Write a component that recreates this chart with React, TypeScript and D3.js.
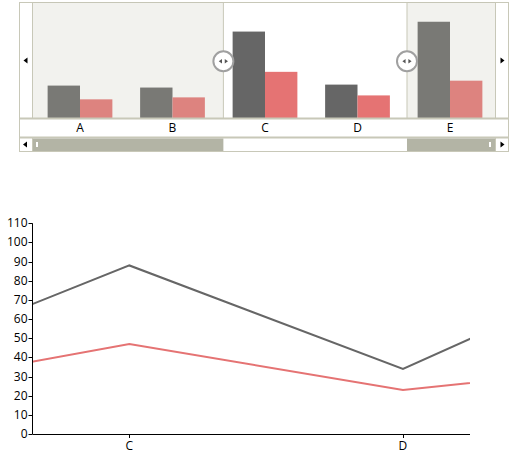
import * as d3 from 'd3';

// data
const categories = ['A', 'B', 'C', 'D', 'E'];
const seriesGray = [33, 31, 88, 34, 98];
const seriesPink = [19, 21, 47, 23, 38];
const yTicks = [0, 10, 20, 30, 40, 50, 60, 70, 80, 90, 100, 110];
// selection window in navigator (category units) and zoom window of line chart (index units)
const navSelection = [2.05, 4.035];
const lineWindow = [1.646, 3.245];

const GRAY = '#666666';
const PINK = '#e57373';
const BORDER = '#c8c8b8';
const SHADE = 'rgba(192,192,173,0.21)';
const THUMB = '#b3b4a5';
const FONT = '"Segoe UI", "Open Sans", "DejaVu Sans", sans-serif';

function Tri({ x, y, dir, size = 3, fill = '#000' }: { x: number; y: number; dir: 1 | -1; size?: number; fill?: string }) {
  const p = dir > 0
    ? `${x - size / 2},${y - size} ${x + size / 2 + 1},${y} ${x - size / 2},${y + size}`
    : `${x + size / 2},${y - size} ${x - size / 2 - 1},${y} ${x + size / 2},${y + size}`;
  return <polygon points={p} fill={fill} />;
}

function Navigator() {
  const left = 19.5, right = 508.5, top = 2.5;
  const plotL = 33.75, plotR = 496.25;
  const base = 118, axisBottom = 137.5, bottom = 151.5;

  const x = d3.scaleBand<string>().domain(categories).range([plotL, plotR]).paddingInner(0.3).paddingOuter(0.15);
  const sub = d3.scaleBand<string>().domain(['g', 'p']).range([0, x.bandwidth()]);
  const y = d3.scaleLinear().domain([0, (d3.max(seriesGray) ?? 0) * 1.2]).range([base, top]);
  const cx = d3.scaleLinear().domain([0, categories.length]).range([plotL, plotR]);
  const s0 = cx(navSelection[0]);
  const s1 = cx(navSelection[1]);
  const midY = (top + base) / 2 + 1;

  return (
    <g>
      <rect x={left} y={top} width={right - left} height={bottom - top} fill="#fff" stroke={BORDER} />
      {categories.map((c, i) => (
        <g key={c}>
          <rect x={x(c)! + sub('g')!} y={y(seriesGray[i])} width={sub.bandwidth()} height={base - y(seriesGray[i])} fill={GRAY} />
          <rect x={x(c)! + sub('p')!} y={y(seriesPink[i])} width={sub.bandwidth()} height={base - y(seriesPink[i])} fill={PINK} />
          <text x={x(c)! + x.bandwidth() / 2} y={(base + axisBottom) / 2 + 4} textAnchor="middle" fontSize={12} fontFamily={FONT}>{c}</text>
        </g>
      ))}
      {/* unselected shades */}
      <rect x={32.5} y={top} width={s0 - 32.5} height={base - top} fill={SHADE} />
      <rect x={s1} y={top} width={495.5 - s1} height={base - top} fill={SHADE} />
      <line x1={s0} x2={s0} y1={top} y2={base} stroke={BORDER} />
      <line x1={s1} x2={s1} y1={top} y2={base} stroke={BORDER} />
      {/* frames */}
      <line x1={32.5} x2={32.5} y1={top} y2={base} stroke={BORDER} />
      <line x1={495.5} x2={495.5} y1={top} y2={base} stroke={BORDER} />
      <line x1={left} x2={right} y1={base + 0.5} y2={base + 0.5} stroke={BORDER} strokeWidth={2} />
      <line x1={left} x2={right} y1={axisBottom} y2={axisBottom} stroke={BORDER} strokeWidth={2} />
      <Tri x={26} y={60.5} dir={-1} />
      <Tri x={502} y={60.5} dir={1} />
      {/* scrollbar */}
      <rect x={32.5} y={axisBottom + 1} width={s0 - 32.5} height={bottom - axisBottom - 1.5} fill={THUMB} />
      <rect x={s1} y={axisBottom + 1} width={495.5 - s1} height={bottom - axisBottom - 1.5} fill={THUMB} />
      <rect x={36} y={142} width={2} height={5} fill="#fff" />
      <rect x={489} y={142} width={2} height={5} fill="#fff" />
      <line x1={32.5} x2={32.5} y1={axisBottom} y2={bottom} stroke={BORDER} />
      <line x1={495.5} x2={495.5} y1={axisBottom} y2={bottom} stroke={BORDER} />
      <Tri x={25.5} y={144.5} dir={-1} />
      <Tri x={502} y={144.5} dir={1} />
      {/* handles */}
      {[s0, s1].map((h, i) => (
        <g key={i}>
          <circle cx={h} cy={midY} r={10} fill="#fff" stroke="#a0a0a0" strokeWidth={2} />
          <Tri x={h - 2.5} y={midY} dir={-1} size={2.2} fill="#555" />
          <Tri x={h + 2.5} y={midY} dir={1} size={2.2} fill="#555" />
        </g>
      ))}
    </g>
  );
}

function LineChart() {
  const l = 32.5, r = 470, t = 223.3, b = 434;
  const x = d3.scaleLinear().domain(lineWindow).range([l, r]);
  const y = d3.scaleLinear().domain([0, 110]).range([b, t]);
  const line = d3.line<number>().x((_, i) => x(i)).y((d) => y(d));
  const visible = categories.map((c, i) => ({ c, i })).filter((d) => d.i >= lineWindow[0] && d.i <= lineWindow[1]);

  return (
    <g>
      <defs>
        <clipPath id="lc">
          <rect x={l} y={t - 10} width={r - l} height={b - t + 10} />
        </clipPath>
      </defs>
      <g clipPath="url(#lc)">
        <path d={line(seriesGray) ?? ''} fill="none" stroke={GRAY} strokeWidth={2} />
        <path d={line(seriesPink) ?? ''} fill="none" stroke={PINK} strokeWidth={2} />
      </g>
      <line x1={l} x2={l} y1={t} y2={b} stroke="#000" />
      <line x1={l} x2={r} y1={b + 0.5} y2={b + 0.5} stroke="#000" />
      {yTicks.map((v) => (
        <g key={v}>
          <line x1={l - 4} x2={l} y1={Math.round(y(v)) + 0.5} y2={Math.round(y(v)) + 0.5} stroke="#000" />
          <text x={l - 5} y={y(v) + 4} textAnchor="end" fontSize={12} fontFamily={FONT}>{v}</text>
        </g>
      ))}
      {visible.map((d) => (
        <g key={d.c}>
          <line x1={Math.round(x(d.i)) + 0.5} x2={Math.round(x(d.i)) + 0.5} y1={b} y2={b + 4} stroke="#000" />
          <text x={x(d.i)} y={b + 16} textAnchor="middle" fontSize={12} fontFamily={FONT}>{d.c}</text>
        </g>
      ))}
    </g>
  );
}

export default function App() {
  return (
    <svg width={513} height={454} style={{ position: 'absolute', left: 0, top: 0 }}>
      <rect width={513} height={454} fill="#fff" />
      <Navigator />
      <LineChart />
    </svg>
  );
}
